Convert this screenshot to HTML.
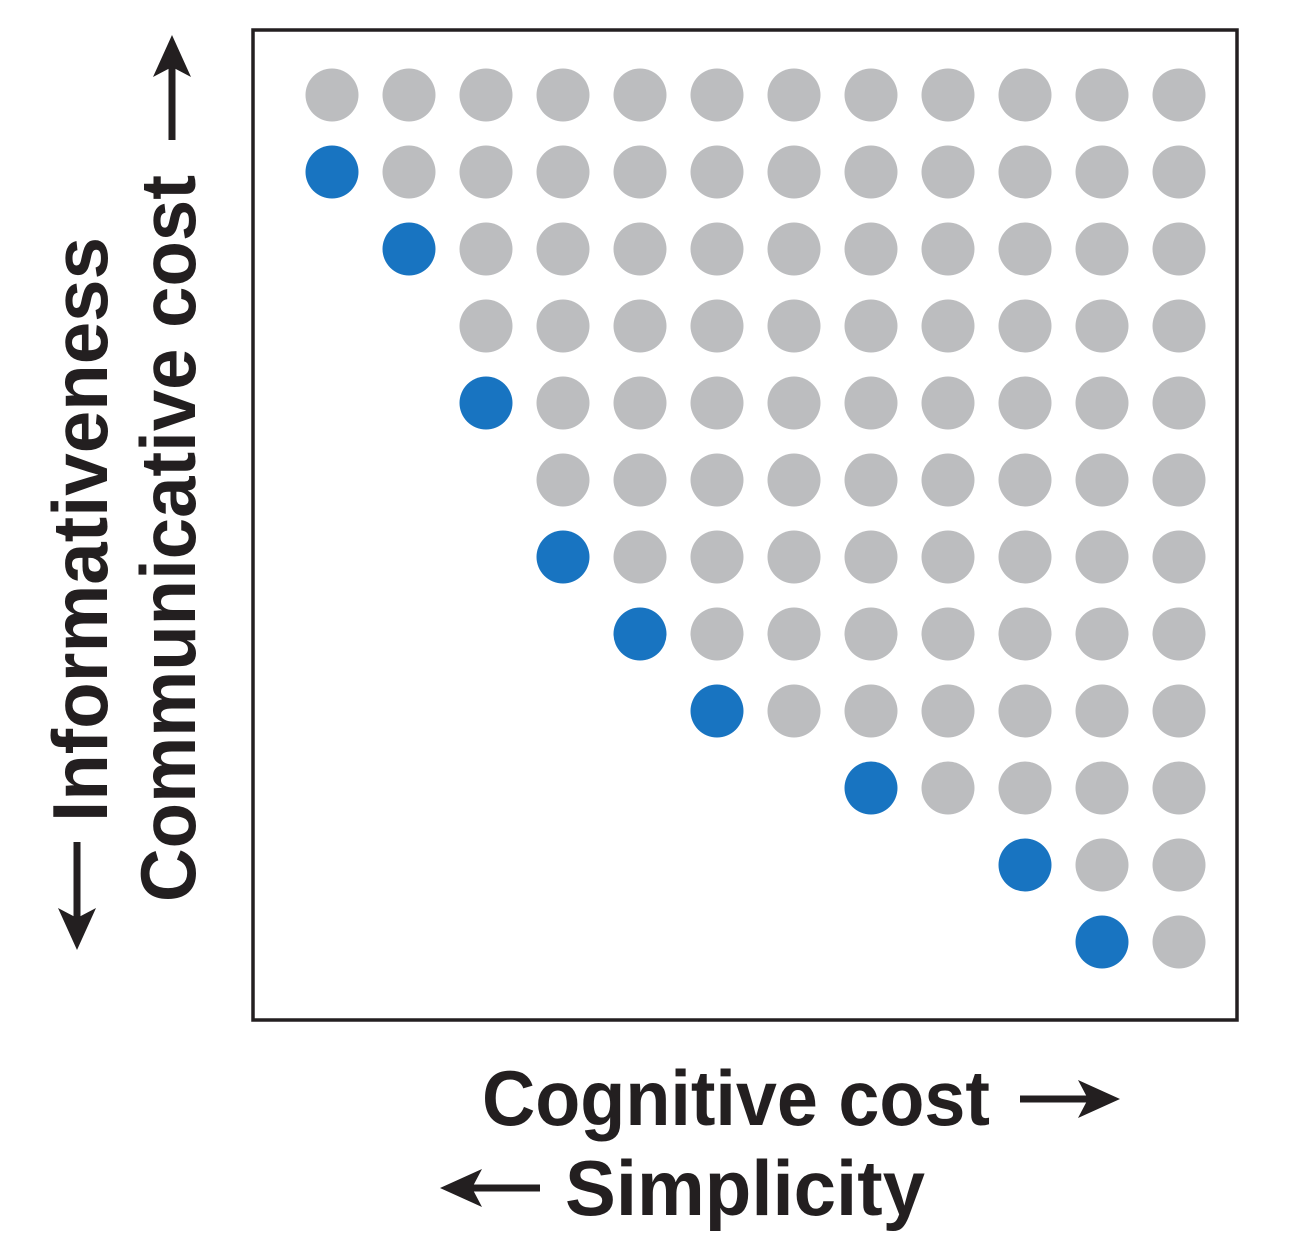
<!DOCTYPE html>
<html><head><meta charset="utf-8"><style>
html,body{margin:0;padding:0;background:#fff;}
svg{display:block;}
text{font-family:"Liberation Sans",sans-serif;font-weight:bold;fill:#231f20;}
</style></head><body>
<svg id="chart" width="1290" height="1252" viewBox="0 0 1290 1252">
<rect x="253" y="30" width="984" height="990" fill="none" stroke="#231f20" stroke-width="3.5"/>
<g id="dots"></g>
<text x="482" y="1125" font-size="78" textLength="508" lengthAdjust="spacingAndGlyphs">Cognitive cost</text>
<g>
<line x1="1020" y1="1099" x2="1095" y2="1099" stroke="#231f20" stroke-width="7"/>
<polygon points="1120,1099 1078,1080 1088,1099 1078,1118" fill="#231f20"/>
</g>
<text x="565" y="1215" font-size="78" textLength="360" lengthAdjust="spacingAndGlyphs">Simplicity</text>
<g>
<line x1="465" y1="1188" x2="540" y2="1188" stroke="#231f20" stroke-width="7"/>
<polygon points="440,1188 482,1169 472,1188 482,1207" fill="#231f20"/>
</g>
<text transform="translate(195,902) rotate(-90)" font-size="78" textLength="727" lengthAdjust="spacingAndGlyphs">Communicative cost</text>
<g>
<line x1="172" y1="140" x2="172" y2="60" stroke="#231f20" stroke-width="7"/>
<polygon points="172,35 153,77 172,67 191,77" fill="#231f20"/>
</g>
<text transform="translate(107,822) rotate(-90)" font-size="78" textLength="585" lengthAdjust="spacingAndGlyphs">Informativeness</text>
<g>
<line x1="77" y1="842" x2="77" y2="925" stroke="#231f20" stroke-width="7"/>
<polygon points="77,950 58,908 77,918 96,908" fill="#231f20"/>
</g>
</svg>
<script>
// per row: first gray column, and blue column (null = none)
const rowGrayStart = [0,1,2,2,3,3,4,5,6,8,10,11];
const rowBlueCol = [null,0,1,null,2,null,3,4,5,7,9,10];
const nCols = 12;
const xPos = c => 332 + c*77;
const yPos = r => 95 + r*77;
const g = document.getElementById('dots');
const NS = 'http://www.w3.org/2000/svg';
function dot(c, r, color, name){
  const el = document.createElementNS(NS,'circle');
  el.setAttribute('cx', xPos(c));
  el.setAttribute('cy', yPos(r));
  el.setAttribute('r', 26.5);
  el.setAttribute('fill', color);
  
  
  g.appendChild(el);
}
rowGrayStart.forEach((s, r) => {
  for (let c = s; c < nCols; c++) dot(c, r, '#bcbdbf', 'gray-dot');
  if (rowBlueCol[r] !== null) dot(rowBlueCol[r], r, '#1874c1', 'blue-dot');
});
</script>
</body></html>
